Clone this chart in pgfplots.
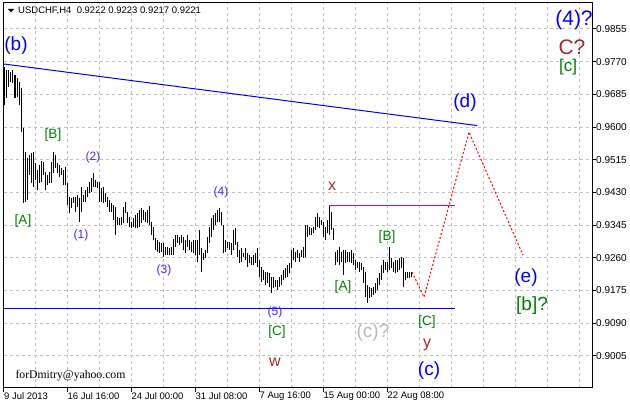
\documentclass[border=0pt]{standalone}
\usepackage{fontspec}
\setmainfont{Liberation Sans}
\newfontfamily\mailfont{Liberation Serif}
\usepackage{pgfplots}
\usepackage{pgfplotstable}
\pgfplotsset{compat=1.18}
\definecolor{mtgreen}{RGB}{0,128,0}
\definecolor{mtbrown}{RGB}{165,42,42}
\definecolor{mtsilver}{RGB}{185,185,195}
\definecolor{mtgrid}{RGB}{192,192,192}
\definecolor{mtviolet}{RGB}{70,40,245}

% H4 bars: x = bar position, l = low, h = high
\pgfplotstableread{
x l h
5 0.9657 0.9756
7 0.9676 0.9748
9 0.9704 0.9748
11 0.9717 0.9743
13 0.9715 0.9748
15 0.9676 0.9735
17 0.9678 0.9728
19 0.9657 0.9717
21 0.9587 0.9702
23 0.9403 0.9598
25 0.9405 0.9535
27 0.9410 0.9520
29 0.9475 0.9527
31 0.9455 0.9533
33 0.9444 0.9535
35 0.9462 0.9507
37 0.9436 0.9488
39 0.9455 0.9501
41 0.9457 0.9512
43 0.9475 0.9509
45 0.9436 0.9483
47 0.9449 0.9475
49 0.9455 0.9483
51 0.9455 0.9509
53 0.9481 0.9535
55 0.9494 0.9527
57 0.9481 0.9507
59 0.9470 0.9501
61 0.9475 0.9494
63 0.9449 0.9488
65 0.9449 0.9496
67 0.9397 0.9455
69 0.9377 0.9418
71 0.9390 0.9416
73 0.9403 0.9418
75 0.9379 0.9418
77 0.9392 0.9423
79 0.9353 0.9416
81 0.9379 0.9444
83 0.9405 0.9423
85 0.9405 0.9436
87 0.9418 0.9444
89 0.9429 0.9457
91 0.9431 0.9468
93 0.9444 0.9481
95 0.9444 0.9462
97 0.9442 0.9457
99 0.9405 0.9457
101 0.9405 0.9442
103 0.9403 0.9444
105 0.9405 0.9429
107 0.9392 0.9418
109 0.9379 0.9410
111 0.9379 0.9403
113 0.9358 0.9397
115 0.9319 0.9392
117 0.9345 0.9366
119 0.9345 0.9364
121 0.9345 0.9366
123 0.9351 0.9392
125 0.9377 0.9405
127 0.9351 0.9379
129 0.9340 0.9366
131 0.9338 0.9353
133 0.9340 0.9364
135 0.9338 0.9371
137 0.9338 0.9377
139 0.9340 0.9384
141 0.9351 0.9390
143 0.9358 0.9384
145 0.9353 0.9379
147 0.9351 0.9384
149 0.9345 0.9395
151 0.9319 0.9353
153 0.9306 0.9340
155 0.9280 0.9312
157 0.9275 0.9306
159 0.9273 0.9301
161 0.9275 0.9299
163 0.9262 0.9299
165 0.9267 0.9288
167 0.9267 0.9288
169 0.9267 0.9286
171 0.9267 0.9288
173 0.9267 0.9309
175 0.9288 0.9319
177 0.9299 0.9319
179 0.9293 0.9314
181 0.9299 0.9319
183 0.9280 0.9314
185 0.9273 0.9306
187 0.9288 0.9319
189 0.9280 0.9306
191 0.9275 0.9301
193 0.9273 0.9306
195 0.9267 0.9306
197 0.9249 0.9306
199 0.9267 0.9332
201 0.9223 0.9286
203 0.9254 0.9273
205 0.9260 0.9280
207 0.9273 0.9314
209 0.9299 0.9340
211 0.9314 0.9364
213 0.9332 0.9371
215 0.9345 0.9377
217 0.9353 0.9384
219 0.9353 0.9390
221 0.9345 0.9379
223 0.9273 0.9345
225 0.9275 0.9306
227 0.9286 0.9301
229 0.9280 0.9301
231 0.9267 0.9299
233 0.9280 0.9332
235 0.9293 0.9338
237 0.9262 0.9301
239 0.9247 0.9280
241 0.9249 0.9286
243 0.9262 0.9273
245 0.9254 0.9286
247 0.9236 0.9273
249 0.9247 0.9267
251 0.9241 0.9262
253 0.9241 0.9267
255 0.9247 0.9273
257 0.9236 0.9286
259 0.9210 0.9254
261 0.9197 0.9236
263 0.9202 0.9228
265 0.9189 0.9223
267 0.9195 0.9223
269 0.9184 0.9221
271 0.9169 0.9210
273 0.9182 0.9210
275 0.9184 0.9202
277 0.9176 0.9202
279 0.9184 0.9210
281 0.9189 0.9215
283 0.9202 0.9228
285 0.9208 0.9234
287 0.9210 0.9241
289 0.9221 0.9247
291 0.9234 0.9280
293 0.9254 0.9286
295 0.9249 0.9275
297 0.9260 0.9280
299 0.9249 0.9273
301 0.9262 0.9280
303 0.9260 0.9288
305 0.9262 0.9345
307 0.9314 0.9345
309 0.9319 0.9340
311 0.9319 0.9338
313 0.9325 0.9340
315 0.9332 0.9366
317 0.9340 0.9377
319 0.9338 0.9366
321 0.9345 0.9358
323 0.9314 0.9353
325 0.9306 0.9340
327 0.9325 0.9358
329 0.9319 0.9397
331 0.9332 0.9379
333 0.9306 0.9338
335 0.9241 0.9275
337 0.9249 0.9280
339 0.9241 0.9288
341 0.9249 0.9275
343 0.9215 0.9280
345 0.9247 0.9280
347 0.9249 0.9275
349 0.9249 0.9275
351 0.9247 0.9280
353 0.9241 0.9273
355 0.9228 0.9254
357 0.9234 0.9249
359 0.9223 0.9249
361 0.9228 0.9247
363 0.9195 0.9236
365 0.9158 0.9223
367 0.9143 0.9189
369 0.9156 0.9184
371 0.9158 0.9182
373 0.9163 0.9184
375 0.9169 0.9195
377 0.9176 0.9208
379 0.9189 0.9221
381 0.9202 0.9241
383 0.9221 0.9254
385 0.9228 0.9249
387 0.9223 0.9249
389 0.9228 0.9288
391 0.9234 0.9260
393 0.9223 0.9249
395 0.9221 0.9254
397 0.9223 0.9254
399 0.9228 0.9260
401 0.9234 0.9262
403 0.9184 0.9260
405 0.9202 0.9223
407 0.9208 0.9223
409 0.9208 0.9223
411 0.9210 0.9223
}\bars

\begin{document}
\begin{tikzpicture}
\path[use as bounding box, fill=white] (0,0) rectangle (630pt,407pt);
\fill (8pt,398pt) -- (14pt,398pt) -- (11pt,394.5pt) -- cycle;
\node[anchor=west, inner sep=0pt, font=\fontsize{9.5}{11}\selectfont] at (18pt,396pt) {USDCHF,H4\ \ 0.9222 0.9223 0.9217 0.9221};
\begin{axis}[
  at={(4pt,19pt)}, anchor=south west,
  scale only axis, width=588pt, height=385pt,
  xmin=4, xmax=592, ymin=0.89216, ymax=0.99226,
  clip=false,
  axis line style={black, line width=1pt},
  tick align=outside,
  major tick length=4pt,
  minor tick length=0pt,
  tick style={black, line width=1pt},
  xtick pos=bottom, ytick pos=right,
  xtick={4,67.5,131.5,195.5,259.5,323.5,387.5},
  xticklabels={9 Jul 2013,16 Jul 16:00,24 Jul 00:00,31 Jul 08:00,7 Aug 16:00,15 Aug 00:00,22 Aug 08:00},
  xticklabel style={anchor=north west, inner sep=0pt, font=\fontsize{9.5}{11}\selectfont},
  minor xtick={35.5,99.5,163.5,227.5,291.5,355.5,419.5,451.5,483.5,515.5,547.5,579.5},
  ytick={0.9005,0.9090,0.9175,0.9260,0.9345,0.9430,0.9515,0.9600,0.9685,0.9770,0.9855},
  yticklabels={0.9005,0.9090,0.9175,0.9260,0.9345,0.9430,0.9515,0.9600,0.9685,0.9770,0.9855},
  yticklabel pos=right,
  yticklabel style={anchor=west, inner sep=0pt, font=\fontsize{10}{12}\selectfont},
  xmajorgrids, xminorgrids, ymajorgrids,
  major grid style={mtgrid, line width=1pt, dash pattern=on 3pt off 3pt},
  minor grid style={mtgrid, line width=1pt, dash pattern=on 3pt off 3pt},
]
\addplot[draw=none, mark=none, forget plot,
  error bars/.cd, y dir=plus, y explicit, error mark=none,
  error bar style={draw=black, solid, line width=1pt}]
  table[x=x, y=l, y error plus expr=\thisrow{h}-\thisrow{l}] {\bars};

\addplot[blue, line width=1pt] coordinates {(4,0.9764) (477,0.9604)};
\addplot[blue, line width=1pt] coordinates {(4,0.9127) (455,0.9127)};
\addplot[magenta, line width=1pt] coordinates {(329,0.9397) (455,0.9397)};
\addplot[red, line width=1pt, dash pattern=on 2pt off 2pt] coordinates {(412,0.9223) (424,0.9158) (469,0.9587) (523,0.9267)};

% wave labels
\node[text=blue, font=\fontsize{19}{22}\selectfont] at (axis cs:16,0.9813) {(b)};
\node[text=mtgreen, font=\fontsize{13.5}{15}\selectfont] at (axis cs:53,0.9579) {[B]};
\node[text=mtgreen, font=\fontsize{13.5}{15}\selectfont] at (axis cs:23,0.9356) {[A]};
\node[text=mtviolet, font=\fontsize{12}{14}\selectfont] at (axis cs:93,0.9522) {(2)};
\node[text=mtviolet, font=\fontsize{12}{14}\selectfont] at (axis cs:81,0.9319) {(1)};
\node[text=mtviolet, font=\fontsize{12}{14}\selectfont] at (axis cs:164,0.9228) {(3)};
\node[text=mtviolet, font=\fontsize{12}{14}\selectfont] at (axis cs:221,0.9429) {(4)};
\node[text=mtviolet, font=\fontsize{12}{14}\selectfont] at (axis cs:275,0.9117) {(5)};
\node[text=mtgreen, font=\fontsize{13.5}{15}\selectfont] at (axis cs:277,0.9067) {[C]};
\node[text=mtbrown, font=\fontsize{16}{18}\selectfont] at (axis cs:275,0.8989) {w};
\node[text=mtbrown, font=\fontsize{16}{18}\selectfont] at (axis cs:332,0.9447) {x};
\node[text=mtgreen, font=\fontsize{13.5}{15}\selectfont] at (axis cs:343,0.9184) {[A]};
\node[text=mtgreen, font=\fontsize{13.5}{15}\selectfont] at (axis cs:387,0.9314) {[B]};
\node[text=mtsilver, font=\fontsize{19}{22}\selectfont] at (axis cs:373,0.9065) {(c)?};
\node[text=mtgreen, font=\fontsize{13.5}{15}\selectfont] at (axis cs:427,0.9093) {[C]};
\node[text=mtbrown, font=\fontsize{16}{18}\selectfont] at (axis cs:427,0.9033) {y};
\node[text=blue, font=\fontsize{19}{22}\selectfont] at (axis cs:429,0.8968) {(c)};
\node[text=blue, font=\fontsize{19}{22}\selectfont] at (axis cs:465,0.9663) {(d)};
\node[text=blue, font=\fontsize{19}{22}\selectfont] at (axis cs:526,0.9208) {(e)};
\node[text=mtgreen, font=\fontsize{19}{22}\selectfont] at (axis cs:532,0.9137) {[b]?};
\node[text=blue, font=\fontsize{21}{24}\selectfont] at (axis cs:574,0.9878) {(4)?};
\node[text=mtbrown, font=\fontsize{21}{24}\selectfont] at (axis cs:572,0.9808) {C?};
\node[text=mtgreen, font=\fontsize{17}{20}\selectfont] at (axis cs:568,0.9756) {[c]};
\node[anchor=west, font=\mailfont\fontsize{11.7}{13}\selectfont] at (axis cs:12,0.8955) {forDmitry@yahoo.com};
\end{axis}
\end{tikzpicture}
\end{document}
